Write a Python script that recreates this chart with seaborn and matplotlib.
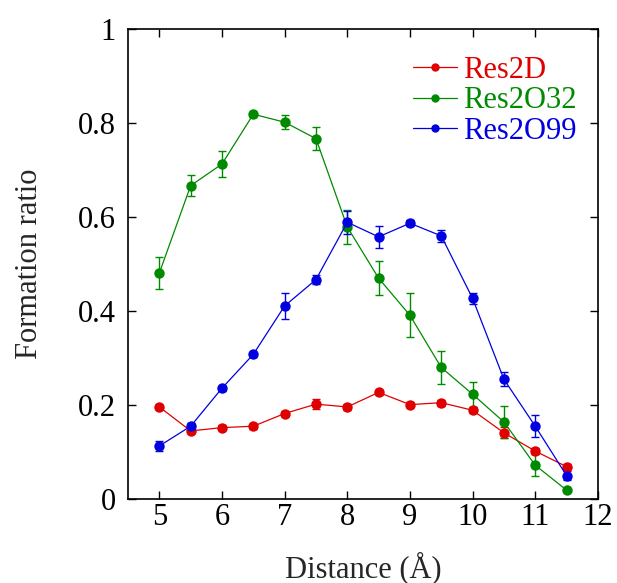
import matplotlib
matplotlib.use("Agg")
import matplotlib.pyplot as plt
import seaborn as sns
import pandas as pd

# Formation ratio vs. distance for three residue pairs
distance = [5.0, 5.5, 6.0, 6.5, 7.0, 7.5, 8.0, 8.5, 9.0, 9.5, 10.0, 10.5, 11.0, 11.5]

res2d = [0.196, 0.145, 0.152, 0.155, 0.182, 0.202, 0.196, 0.227, 0.201, 0.205, 0.189, 0.141, 0.102, 0.069]
res2d_err = [0.005, 0.005, 0.005, 0.005, 0.006, 0.010, 0.006, 0.006, 0.006, 0.006, 0.006, 0.012, 0.006, 0.005]

res2o32 = [0.481, 0.667, 0.713, 0.819, 0.802, 0.767, 0.579, 0.470, 0.391, 0.280, 0.223, 0.164, 0.072, 0.019]
res2o32_err = [0.035, 0.023, 0.027, 0.005, 0.015, 0.024, 0.036, 0.036, 0.047, 0.035, 0.027, 0.035, 0.023, 0.004]

res2o99 = [0.113, 0.155, 0.236, 0.308, 0.411, 0.467, 0.589, 0.558, 0.587, 0.560, 0.427, 0.255, 0.155, 0.050]
res2o99_err = [0.010, 0.006, 0.005, 0.005, 0.028, 0.010, 0.024, 0.024, 0.006, 0.012, 0.012, 0.015, 0.024, 0.010]

series = ["Res2D", "Res2O32", "Res2O99"]
colors = ["#e00000", "#008a00", "#0000e0"]

frames = []
for name, vals, errs in zip(series, [res2d, res2o32, res2o99], [res2d_err, res2o32_err, res2o99_err]):
    frames.append(pd.DataFrame({"Distance": distance, "Ratio": vals, "Err": errs, "Series": name}))
df = pd.concat(frames, ignore_index=True)

sns.set_theme(style="ticks")
plt.rcParams["font.family"] = ["Liberation Serif", "DejaVu Serif"]

FS = 22

fig = plt.figure(figsize=(6.17, 5.83), dpi=100)
ax = fig.add_axes([0.2075, 0.144, 0.7615, 0.806])

palette = dict(zip(series, colors))
for name in series:
    sub = df[df["Series"] == name]
    ax.errorbar(sub["Distance"], sub["Ratio"], yerr=sub["Err"], fmt="none",
                ecolor=palette[name], elinewidth=1.0, capsize=3, capthick=1.0, zorder=2)

sns.lineplot(data=df, x="Distance", y="Ratio", hue="Series", palette=palette,
             marker="o", markersize=7.5, markeredgewidth=0, linewidth=0.9,
             ax=ax, legend=False, zorder=3)

ax.set_xlim(4.5, 12)
ax.set_ylim(0, 1)
ax.set_xticks([5, 6, 7, 8, 9, 10, 11, 12])
ax.set_yticks([0, 0.2, 0.4, 0.6, 0.8, 1.0])
ax.set_yticklabels(["0", "0.2", "0.4", "0.6", "0.8", "1"])
ax.tick_params(direction="in", length=6, width=1.0, top=True, right=True,
               labelsize=FS, colors="black")
ax.tick_params(axis="x", pad=3)
ax.tick_params(axis="y", pad=9)
for s in ax.spines.values():
    s.set_linewidth(1.2)
    s.set_color("black")

ax.set_xlabel("Distance (Å)", fontsize=FS, labelpad=14)
ax.set_ylabel("Formation ratio", fontsize=FS, labelpad=24)

handles = [plt.Line2D([], [], color=c, marker="o", markersize=5, linewidth=0.9) for c in colors]
leg = ax.legend(handles, series, loc="upper left", bbox_to_anchor=(0.606, 0.943),
                frameon=False, fontsize=FS, handlelength=1.45, handletextpad=0.2,
                labelspacing=0.05, borderaxespad=0, borderpad=0)
for t, c in zip(leg.get_texts(), colors):
    t.set_color(c)

fig.savefig("out.png", dpi=100)
